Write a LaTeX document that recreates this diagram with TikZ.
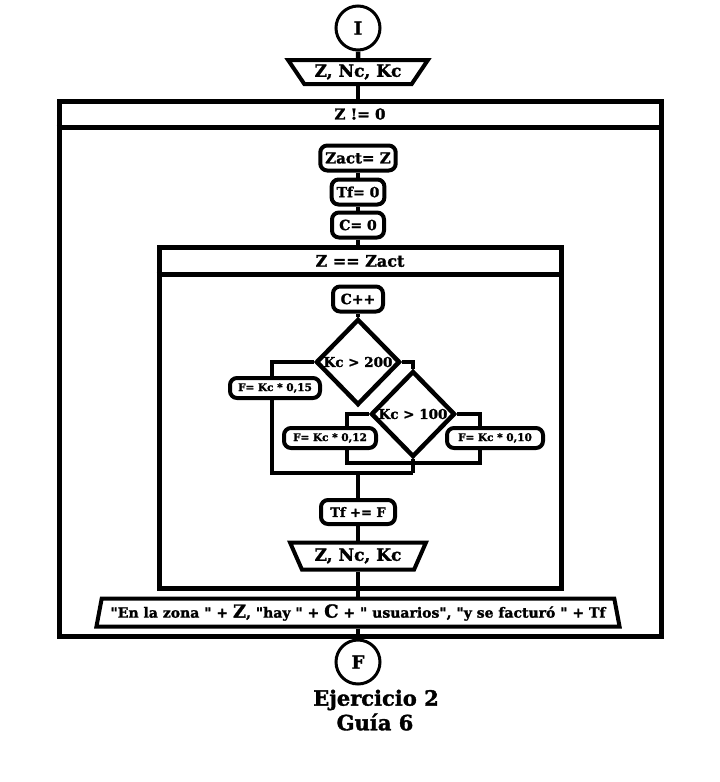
\documentclass[tikz,border=0pt]{standalone}
\usepackage{fontspec}
\setmainfont{DejaVu Serif}[Ligatures=TeXOff, BoldFeatures={FakeBold=1.6}]
\usetikzlibrary{shapes.geometric}
\pgfdeclarelayer{bg}
\pgfsetlayers{bg,main}
\newcommand{\fsz}[1]{\bfseries\fontsize{#1}{#1}\selectfont}
\begin{document}
\begin{tikzpicture}[x=1pt,y=-1pt,
  conn/.style={line width=4.5pt},
  term/.style={circle, draw, line width=3pt, minimum size=44pt, inner sep=0pt, fill=white, font=\fsz{18}},
  procbox/.style={draw, line width=4pt, rounded corners=7pt, inner xsep=5pt, inner ysep=0pt, fill=white},
  smallbox/.style={procbox, inner xsep=3pt, minimum height=20pt, font=\fsz{10.5}},
  loopbox/.style={draw, line width=5pt, inner sep=0pt},
  decision/.style={diamond, draw, line width=4.5pt, inner sep=1pt, fill=white, minimum width=84pt, minimum height=86pt},
  readshape/.style={trapezium, draw, line width=4pt, inner xsep=1pt, inner ysep=2pt, fill=white, shape border rotate=180, trapezium stretches=true},
  dispshape/.style={trapezium, draw, line width=4pt, inner xsep=1pt, inner ysep=2pt, fill=white, trapezium stretches=true}
]
\useasboundingbox (0,0) rectangle (720,782);

% start
\node[term] (ini) at (358,28) {I};
\node[readshape, trapezium left angle=55, trapezium right angle=55, minimum width=140pt, minimum height=24pt,
      font=\fsz{17}] (in1) at (358,72) {Z, Nc, Kc};

% outer loop
\node[loopbox, minimum width=602pt, minimum height=535pt] (loopA) at (360,368.5) {};
\coordinate (hA) at (0,127);
\draw[line width=5pt] (loopA.west |- hA) -- (loopA.east |- hA);
\node[font=\fsz{15}] (condA) at (360,114) {Z != 0};

\node[procbox, minimum width=74pt, minimum height=25pt, font=\fsz{15}] (zact) at (358,158) {Zact= Z};
\node[procbox, minimum width=52pt, minimum height=25pt, font=\fsz{14}] (tf0) at (358,192) {Tf= 0};
\node[procbox, minimum width=52pt, minimum height=25pt, font=\fsz{14}] (c0) at (358,225) {C= 0};

% inner loop
\node[loopbox, minimum width=402pt, minimum height=341pt] (loopB) at (360,417.5) {};
\coordinate (hB) at (0,274);
\draw[line width=5pt] (loopB.west |- hB) -- (loopB.east |- hB);
\node[font=\fsz{16}] (condB) at (360,261) {Z == Zact};

\node[procbox, minimum width=50pt, minimum height=25pt, font=\fsz{14}] (cpp) at (358,299) {C++};
\node[decision] (d1) at (358,362) {};
\node[font=\fsz{13.5}] (d1t) at (d1.center) {Kc > 200};
\node[decision] (d2) at (413,414) {};
\node[font=\fsz{13.5}] (d2t) at (d2.center) {Kc > 100};

\node[smallbox, minimum width=90pt] (f15) at (275,388) {F= Kc * 0,15};
\node[smallbox, minimum width=92pt] (f12) at (330,438) {F= Kc * 0,12};
\node[smallbox, minimum width=96pt] (f10) at (495,438) {F= Kc * 0,10};

\coordinate (j1) at (272,473);
\coordinate (j2) at (413,473);
\coordinate (j3) at (347,463);
\coordinate (j4) at (480,463);
\coordinate (j5) at (358,473);

\node[procbox, minimum width=74pt, minimum height=24pt, font=\fsz{13}] (tfp) at (358,512) {Tf += F};
\node[readshape, trapezium left angle=64, trapezium right angle=64, minimum width=136pt, minimum height=27pt,
      font=\fsz{17}] (out1) at (358,556) {Z, Nc, Kc};

\node[dispshape, trapezium left angle=76, trapezium right angle=76, minimum width=524pt, minimum height=28pt,
      font=\fsz{14}] (out2) at (358,612.5) {"En la zona " + {\fsz{18}Z}, "hay " + {\fsz{18}C} + " usuarios", "y se facturó " + Tf};

\node[term] (fin) at (358,662) {F};

\node[font=\fsz{21}] (t1) at (376,700) {Ejercicio 2};
\node[font=\fsz{21}] (t2) at (375,722) {Guía 6};

\begin{pgfonlayer}{bg}
\draw[conn] (ini.south) -- (in1.north);
\draw[conn] (in1.south) -- (in1.south |- loopA.north);
\draw[conn] (zact) -- (tf0);
\draw[conn] (tf0) -- (c0);
\draw[conn] (c0.south) -- (c0.south |- loopB.north);
\draw[conn] (cpp) -- (d1);
\draw[conn] (d1.west) -| (j1) -- (j2);
\draw[conn] (d1.east) -| (d2.north);
\draw[conn] (d2.west) -| (j3) -- (j4) |- (d2.east);
\draw[conn] (d2.south) -- (j2);
\draw[conn] (j5) -- (tfp.north);
\draw[conn] (tfp) -- (out1);
\draw[conn] (out1.south) -- (out1.south |- loopB.south);
\draw[conn] (out2.north |- loopB.south) -- (out2.north);
\draw[conn] (out2.south) -- (out2.south |- loopA.south);
\draw[conn] (fin.north |- loopA.south) -- (fin.north);
\end{pgfonlayer}
\end{tikzpicture}
\end{document}
